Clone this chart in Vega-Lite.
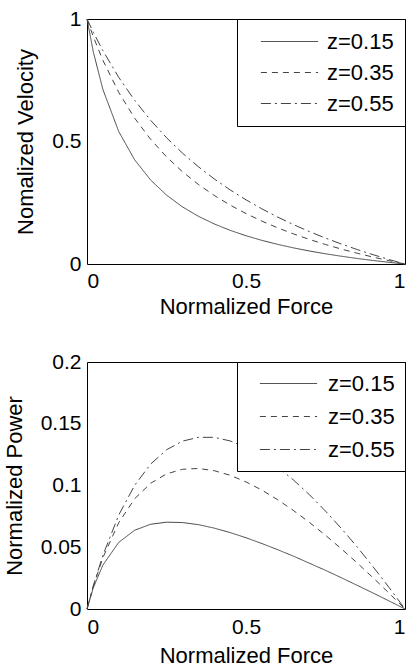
{
  "$schema": "https://vega.github.io/schema/vega-lite/v6.json",
  "padding": {"left": 2, "top": 7, "right": 0, "bottom": 0},
  "background": "#ffffff",
  "datasets": {
    "curves": [
      {"F": 0, "z": "z=0.15", "v": 1, "p": 0},
      {"F": 0.02, "z": "z=0.15", "v": 0.865, "p": 0.0173},
      {"F": 0.05, "z": "z=0.15", "v": 0.7125, "p": 0.0356},
      {"F": 0.1, "z": "z=0.15", "v": 0.54, "p": 0.054},
      {"F": 0.15, "z": "z=0.15", "v": 0.425, "p": 0.0638},
      {"F": 0.2, "z": "z=0.15", "v": 0.3429, "p": 0.0686},
      {"F": 0.25, "z": "z=0.15", "v": 0.2813, "p": 0.0703},
      {"F": 0.3, "z": "z=0.15", "v": 0.2333, "p": 0.07},
      {"F": 0.35, "z": "z=0.15", "v": 0.195, "p": 0.0683},
      {"F": 0.4, "z": "z=0.15", "v": 0.1636, "p": 0.0655},
      {"F": 0.45, "z": "z=0.15", "v": 0.1375, "p": 0.0619},
      {"F": 0.5, "z": "z=0.15", "v": 0.1154, "p": 0.0577},
      {"F": 0.55, "z": "z=0.15", "v": 0.0964, "p": 0.053},
      {"F": 0.6, "z": "z=0.15", "v": 0.08, "p": 0.048},
      {"F": 0.65, "z": "z=0.15", "v": 0.0656, "p": 0.0427},
      {"F": 0.7, "z": "z=0.15", "v": 0.0529, "p": 0.037},
      {"F": 0.75, "z": "z=0.15", "v": 0.0417, "p": 0.0313},
      {"F": 0.8, "z": "z=0.15", "v": 0.0316, "p": 0.0253},
      {"F": 0.85, "z": "z=0.15", "v": 0.0225, "p": 0.0191},
      {"F": 0.9, "z": "z=0.15", "v": 0.0143, "p": 0.0129},
      {"F": 0.95, "z": "z=0.15", "v": 0.0068, "p": 0.0065},
      {"F": 1, "z": "z=0.15", "v": 0, "p": 0},
      {"F": 0, "z": "z=0.35", "v": 1, "p": 0},
      {"F": 0.02, "z": "z=0.35", "v": 0.927, "p": 0.0185},
      {"F": 0.05, "z": "z=0.35", "v": 0.8313, "p": 0.0416},
      {"F": 0.1, "z": "z=0.35", "v": 0.7, "p": 0.07},
      {"F": 0.15, "z": "z=0.35", "v": 0.595, "p": 0.0893},
      {"F": 0.2, "z": "z=0.35", "v": 0.5091, "p": 0.1018},
      {"F": 0.25, "z": "z=0.35", "v": 0.4375, "p": 0.1094},
      {"F": 0.3, "z": "z=0.35", "v": 0.3769, "p": 0.1131},
      {"F": 0.35, "z": "z=0.35", "v": 0.325, "p": 0.1138},
      {"F": 0.4, "z": "z=0.35", "v": 0.28, "p": 0.112},
      {"F": 0.45, "z": "z=0.35", "v": 0.2406, "p": 0.1083},
      {"F": 0.5, "z": "z=0.35", "v": 0.2059, "p": 0.1029},
      {"F": 0.55, "z": "z=0.35", "v": 0.175, "p": 0.0963},
      {"F": 0.6, "z": "z=0.35", "v": 0.1474, "p": 0.0884},
      {"F": 0.65, "z": "z=0.35", "v": 0.1225, "p": 0.0796},
      {"F": 0.7, "z": "z=0.35", "v": 0.1, "p": 0.07},
      {"F": 0.75, "z": "z=0.35", "v": 0.0795, "p": 0.0597},
      {"F": 0.8, "z": "z=0.35", "v": 0.0609, "p": 0.0487},
      {"F": 0.85, "z": "z=0.35", "v": 0.0438, "p": 0.0372},
      {"F": 0.9, "z": "z=0.35", "v": 0.028, "p": 0.0252},
      {"F": 0.95, "z": "z=0.35", "v": 0.0135, "p": 0.0128},
      {"F": 1, "z": "z=0.35", "v": 0, "p": 0},
      {"F": 0, "z": "z=0.55", "v": 1, "p": 0},
      {"F": 0.02, "z": "z=0.55", "v": 0.9456, "p": 0.0189},
      {"F": 0.05, "z": "z=0.55", "v": 0.8708, "p": 0.0435},
      {"F": 0.1, "z": "z=0.55", "v": 0.7615, "p": 0.0762},
      {"F": 0.15, "z": "z=0.55", "v": 0.6679, "p": 0.1002},
      {"F": 0.2, "z": "z=0.55", "v": 0.5867, "p": 0.1173},
      {"F": 0.25, "z": "z=0.55", "v": 0.5156, "p": 0.1289},
      {"F": 0.3, "z": "z=0.55", "v": 0.4529, "p": 0.1359},
      {"F": 0.35, "z": "z=0.55", "v": 0.3972, "p": 0.139},
      {"F": 0.4, "z": "z=0.55", "v": 0.3474, "p": 0.139},
      {"F": 0.45, "z": "z=0.55", "v": 0.3025, "p": 0.1361},
      {"F": 0.5, "z": "z=0.55", "v": 0.2619, "p": 0.131},
      {"F": 0.55, "z": "z=0.55", "v": 0.225, "p": 0.1238},
      {"F": 0.6, "z": "z=0.55", "v": 0.1913, "p": 0.1148},
      {"F": 0.65, "z": "z=0.55", "v": 0.1604, "p": 0.1043},
      {"F": 0.7, "z": "z=0.55", "v": 0.132, "p": 0.0924},
      {"F": 0.75, "z": "z=0.55", "v": 0.1058, "p": 0.0793},
      {"F": 0.8, "z": "z=0.55", "v": 0.0815, "p": 0.0652},
      {"F": 0.85, "z": "z=0.55", "v": 0.0589, "p": 0.0501},
      {"F": 0.9, "z": "z=0.55", "v": 0.0379, "p": 0.0341},
      {"F": 0.95, "z": "z=0.55", "v": 0.0183, "p": 0.0174},
      {"F": 1, "z": "z=0.55", "v": 0, "p": 0}
    ]
  },
  "vconcat": [
    {
      "width": 318,
      "height": 245,
      "data": {"name": "curves"},
      "mark": {"type": "line", "color": "#444", "strokeWidth": 1},
      "encoding": {
        "x": {"field": "F", "type": "quantitative", "scale": {"domain": [0, 1], "nice": false},
              "axis": {"values": [0, 0.5, 1], "format": "~g", "title": "Normalized Force", "labelPadding": 6, "titlePadding": 5}},
        "y": {"field": "v", "type": "quantitative", "scale": {"domain": [0, 1], "nice": false},
              "axis": {"values": [0, 0.5, 1], "format": "~g", "title": "Nomalized Velocity", "labelPadding": 6, "titlePadding": 14}},
        "strokeDash": {"field": "z", "type": "nominal",
          "scale": {"domain": ["z=0.15", "z=0.35", "z=0.55"], "range": [[1, 0], [6, 5], [10, 4, 2, 4]]},
          "legend": {"orient": "none", "legendX": 150, "legendY": 0, "rowPadding": 8, "padding": 11, "symbolOffset": 30, "labelOffset": 26}}
      }
    },
    {
      "width": 318,
      "height": 247,
      "data": {"name": "curves"},
      "mark": {"type": "line", "color": "#444", "strokeWidth": 1},
      "encoding": {
        "x": {"field": "F", "type": "quantitative", "scale": {"domain": [0, 1], "nice": false},
              "axis": {"values": [0, 0.5, 1], "format": "~g", "title": "Normalized Force", "labelPadding": 7, "titlePadding": 8}},
        "y": {"field": "p", "type": "quantitative", "scale": {"domain": [0, 0.2], "nice": false},
              "axis": {"values": [0, 0.05, 0.1, 0.15, 0.2], "format": "~g", "title": "Normalized Power", "labelPadding": 6, "titlePadding": 14}},
        "strokeDash": {"field": "z", "type": "nominal",
          "scale": {"domain": ["z=0.15", "z=0.35", "z=0.55"], "range": [[1, 0], [6, 5], [10, 4, 2, 4]]},
          "legend": {"orient": "none", "legendX": 150, "legendY": 0, "rowPadding": 10, "padding": 10, "symbolOffset": 30, "labelOffset": 28}}
      }
    }
  ],
  "spacing": 32,
  "resolve": {"scale": {"strokeDash": "independent"}, "legend": {"strokeDash": "independent"}},
  "config": {
    "font": "Liberation Sans",
    "view": {"stroke": "#000", "strokeWidth": 1},
    "axis": {
      "labelFont": "Liberation Sans", "titleFont": "Liberation Sans",
      "labelFontSize": 21, "titleFontSize": 22, "titleFontWeight": "normal",
      "labelColor": "#000", "titleColor": "#000",
      "domain": false, "ticks": false, "tickSize": 0, "grid": false
    },
    "legend": {
      "title": null,
      "symbolType": "M-2.6,0H2.6",
      "symbolSize": 484,
      "symbolStrokeWidth": 1,
      "symbolStrokeColor": "#444",
      "symbolFillColor": "transparent",
      "labelFont": "Liberation Sans",
      "labelFontSize": 22,
      "labelColor": "#000",
      "strokeColor": "#000",
      "fillColor": "#ffffff"
    }
  }
}
